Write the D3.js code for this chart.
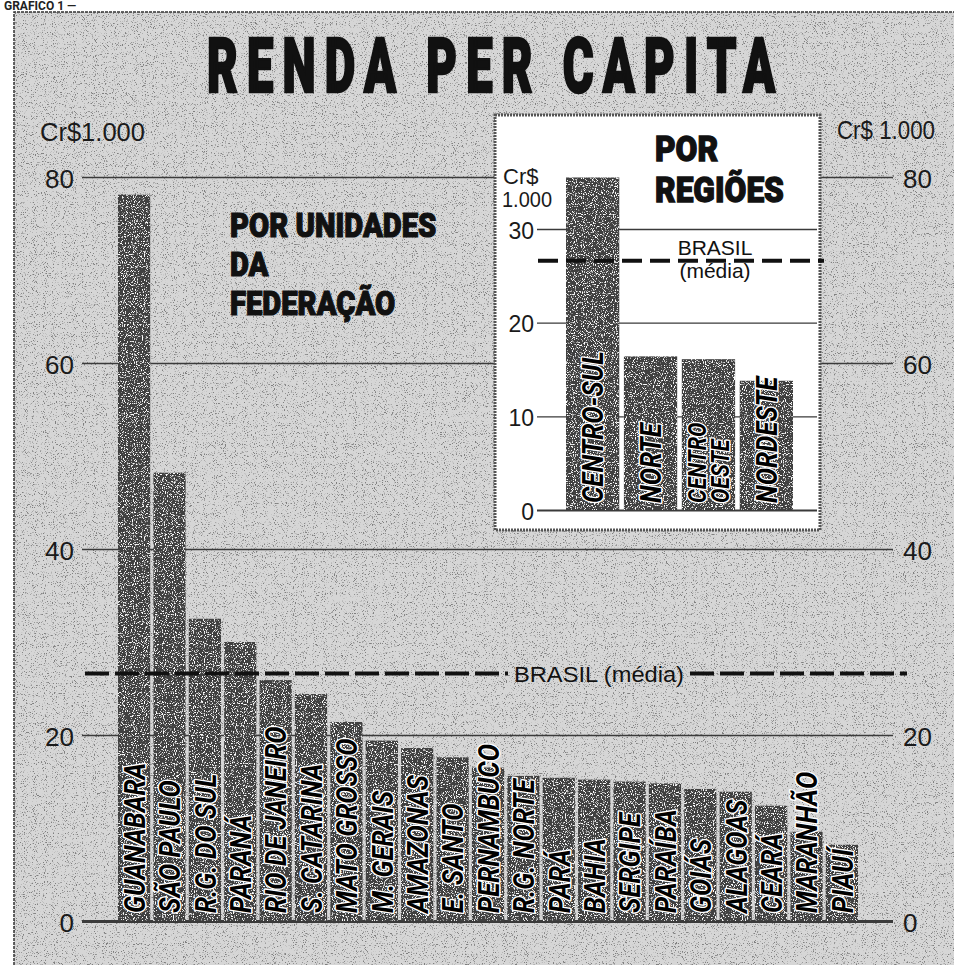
<!DOCTYPE html>
<html>
<head>
<meta charset="utf-8">
<script src="https://cdn.jsdelivr.net/npm/d3@7"></script>
<style>
  body { margin: 0; background: #fff; }
  svg { display: block; }
</style>
</head>
<body>
<script>
// Renda per capita por unidade da federação (Cr$ 1.000)
var estados = ["GUANABARA", "SÃO PAULO", "R.G. DO SUL", "PARANÁ", "RIO DE JANEIRO",
    "S. CATARINA", "MATO GROSSO", "M. GERAIS", "AMAZONAS", "E. SANTO", "PERNAMBUCO",
    "R.G. NORTE", "PARÁ", "BAHIA", "SERGIPE", "PARAÍBA", "GOIÁS", "ALAGOAS", "CEARÁ",
    "MARANHÃO", "PIAUÍ"];
var rendaEstados = [78.1, 48.2, 32.5, 30.0, 25.9, 24.4, 21.4, 19.4, 18.6, 17.6, 16.5,
    15.6, 15.4, 15.2, 15.0, 14.8, 14.2, 13.9, 12.4, 9.6, 8.2];

// por regiões
var regioes = ["CENTRO-SUL", "NORTE", "CENTRO OESTE", "NORDESTE"];
var rendaRegioes = [35.5, 16.4, 16.1, 13.8];

var mediaBrasil = 26.6;
var ticksEstados = [0, 20, 40, 60, 80];
var ticksRegioes = [0, 10, 20, 30];

var width = 954, height = 965;
var paper = "#d6d6d6", barColor = "#404040", lineColor = "#3a3a3a";
var heavy = "Roboto, 'Open Sans', sans-serif";
var plain = "'Liberation Sans', Arial, sans-serif";

var svg = d3.select("body").append("svg")
    .attr("width", width)
    .attr("height", height);

// grain filters to imitate the printed halftone
var defs = svg.append("defs");
var fDark = defs.append("filter").attr("id", "speckDark")
    .attr("x", 0).attr("y", 0).attr("width", "100%").attr("height", "100%");
fDark.append("feTurbulence").attr("type", "fractalNoise").attr("baseFrequency", 0.9)
    .attr("numOctaves", 2).attr("seed", 7).attr("result", "n");
fDark.append("feColorMatrix").attr("in", "n").attr("type", "matrix")
    .attr("values", "0 0 0 0 0  0 0 0 0 0  0 0 0 0 0  7 0 0 0 -4.1");

var fLight = defs.append("filter").attr("id", "speckLight")
    .attr("x", 0).attr("y", 0).attr("width", "100%").attr("height", "100%");
fLight.append("feTurbulence").attr("type", "fractalNoise").attr("baseFrequency", 0.9)
    .attr("numOctaves", 2).attr("seed", 3).attr("result", "n");
fLight.append("feColorMatrix").attr("in", "n").attr("type", "matrix")
    .attr("values", "0 0 0 0 1  0 0 0 0 1  0 0 0 0 1  7 0 0 0 -3.9").attr("result", "w");
fLight.append("feComposite").attr("in", "w").attr("in2", "SourceGraphic")
    .attr("operator", "in").attr("result", "ws");
var fm = fLight.append("feMerge");
fm.append("feMergeNode").attr("in", "SourceGraphic");
fm.append("feMergeNode").attr("in", "ws");

// paper + frame
svg.append("rect").attr("x", 14).attr("y", 12).attr("width", width).attr("height", height)
    .attr("fill", paper);
svg.append("rect").attr("x", 14).attr("y", 12).attr("width", width).attr("height", height)
    .attr("fill", "#000").attr("opacity", 0.4).attr("filter", "url(#speckDark)");
svg.append("path").attr("d", "M14," + height + "V12H" + width)
    .attr("fill", "none").attr("stroke", "#333").attr("stroke-width", 1.5)
    .attr("stroke-dasharray", "3,1");

svg.append("text").attr("x", 4).attr("y", 10)
    .attr("font-family", heavy).attr("font-weight", "bold").attr("font-size", 12)
    .attr("fill", "#222").text("GRÁFICO 1 —");

// title
var tScale = 0.62;
svg.append("g").attr("transform", "translate(207,92) scale(" + tScale + ",1)")
    .append("text")
    .attr("textLength", 568 / tScale).attr("lengthAdjust", "spacing")
    .attr("font-family", heavy).attr("font-weight", 900).attr("font-size", 76)
    .attr("fill", "#111").attr("stroke", "#111").attr("stroke-width", 2.5)
    .text("RENDA PER CAPITA");

// main scales
var y = d3.scaleLinear().domain([0, 80]).range([921, 177]);
var x = d3.scaleBand().domain(estados).range([118, 858]).paddingInner(0.09);

var gridLeft = 82, gridRight = 893;

var axisL = svg.append("g")
    .attr("transform", "translate(" + gridLeft + ",0)")
    .call(d3.axisLeft(y).tickValues(ticksEstados).tickSize(-(gridRight - gridLeft)).tickPadding(8));
var axisR = svg.append("g")
    .attr("transform", "translate(" + gridRight + ",0)")
    .call(d3.axisRight(y).tickValues(ticksEstados).tickSize(0).tickPadding(10));

[axisL, axisR].forEach(function (g) {
    g.select(".domain").remove();
    g.selectAll("text")
        .attr("font-family", plain).attr("font-size", 26).attr("fill", "#1a1a1a")
        .attr("dy", "0.4em");
});
axisL.selectAll("line")
    .attr("stroke", lineColor)
    .attr("stroke-width", function (d) { return d === 0 ? 3 : 1.4; });

// units
svg.append("text").attr("x", 40).attr("y", 141)
    .attr("textLength", 105).attr("lengthAdjust", "spacingAndGlyphs")
    .attr("font-family", plain).attr("font-size", 25).attr("fill", "#1a1a1a")
    .text("Cr$1.000");
svg.append("text").attr("x", 837).attr("y", 139)
    .attr("textLength", 98).attr("lengthAdjust", "spacingAndGlyphs")
    .attr("font-family", plain).attr("font-size", 25).attr("fill", "#1a1a1a")
    .text("Cr$ 1.000");

// subtitle
var sub = svg.append("g").attr("transform", "translate(230,0) scale(0.86,1)")
    .append("text")
    .attr("font-family", heavy).attr("font-weight", 900).attr("font-size", 34)
    .attr("fill", "#111").attr("stroke", "#111").attr("stroke-width", 1.2);
["POR UNIDADES", "DA", "FEDERAÇÃO"].forEach(function (t, i) {
    sub.append("tspan").attr("x", 0).attr("y", 237 + i * 39).text(t);
});

// bars
svg.append("g").attr("filter", "url(#speckLight)").selectAll("rect")
    .data(rendaEstados)
    .join("rect")
    .attr("x", function (d, i) { return x(estados[i]); })
    .attr("y", function (d) { return y(d); })
    .attr("width", x.bandwidth())
    .attr("height", function (d) { return y(0) - y(d); })
    .attr("fill", barColor);

var labelScale = 0.86;
function barLabel(g, cx, bottom, size) {
    return g.append("g")
        .attr("transform", "translate(" + cx + "," + bottom + ") rotate(-90) scale(" + labelScale + ",1)")
        .append("text")
        .attr("font-family", heavy).attr("font-weight", "bold").attr("font-style", "italic")
        .attr("font-size", size)
        .attr("fill", "#000").attr("stroke", "#fff").attr("stroke-width", 3)
        .attr("stroke-linejoin", "round")
        .attr("paint-order", "stroke");
}

var labelsMain = svg.append("g");
estados.forEach(function (name) {
    barLabel(labelsMain, x(name) + x.bandwidth() / 2, 913, 30)
        .attr("dy", "0.36em").text(name);
});

// média Brasil (main)
var yb = y(mediaBrasil);
var dashed = svg.append("g")
    .attr("stroke", "#111").attr("stroke-width", 4).attr("stroke-dasharray", "24,6");
dashed.append("line").attr("x1", 85).attr("x2", 508).attr("y1", yb).attr("y2", yb);
dashed.append("line").attr("x1", 690).attr("x2", 907).attr("y1", yb).attr("y2", yb);
svg.append("text").attr("x", 599).attr("y", yb + 8).attr("text-anchor", "middle")
    .attr("font-family", plain).attr("font-size", 22).attr("fill", "#111")
    .attr("textLength", 170).attr("lengthAdjust", "spacingAndGlyphs")
    .text("BRASIL (média)");

// ---------- inset: por regiões ----------
var inset = svg.append("g");
inset.append("rect")
    .attr("x", 495).attr("y", 115).attr("width", 325).attr("height", 415)
    .attr("fill", "#fff").attr("stroke", "#555").attr("stroke-width", 3)
    .attr("stroke-dasharray", "2,1");

var yr = d3.scaleLinear().domain([0, 30]).range([510, 229]);
var xr = d3.scaleBand().domain(regioes).range([566, 793]).paddingInner(0.08);

var axisI = inset.append("g")
    .attr("transform", "translate(537,0)")
    .call(d3.axisLeft(yr).tickValues(ticksRegioes).tickSize(-280).tickPadding(3));
axisI.select(".domain").remove();
axisI.selectAll("line").attr("stroke", lineColor)
    .attr("stroke-width", function (d) { return d === 0 ? 2 : 1.3; });
axisI.selectAll("text")
    .attr("font-family", plain).attr("font-size", 23).attr("fill", "#1a1a1a")
    .attr("dy", "0.4em");

inset.append("text").attr("x", 503).attr("y", 184)
    .attr("font-family", plain).attr("font-size", 22).attr("fill", "#1a1a1a").text("Cr$");
inset.append("text").attr("x", 502).attr("y", 207)
    .attr("textLength", 50).attr("lengthAdjust", "spacingAndGlyphs")
    .attr("font-family", plain).attr("font-size", 22).attr("fill", "#1a1a1a").text("1.000");

["POR", "REGIÕES"].forEach(function (t, i) {
    inset.append("g").attr("transform", "translate(655," + (161 + i * 41) + ") scale(0.88,1)")
        .append("text")
        .attr("font-family", heavy).attr("font-weight", 900).attr("font-size", 36)
        .attr("fill", "#111").attr("stroke", "#111").attr("stroke-width", 1.3)
        .text(t);
});

inset.append("g").attr("filter", "url(#speckLight)").selectAll("rect")
    .data(rendaRegioes)
    .join("rect")
    .attr("x", function (d, i) { return xr(regioes[i]); })
    .attr("y", function (d) { return yr(d); })
    .attr("width", xr.bandwidth())
    .attr("height", function (d) { return yr(0) - yr(d); })
    .attr("fill", barColor);

regioes.forEach(function (name) {
    var cx = xr(name) + xr.bandwidth() / 2;
    var parts = name.split(" ");
    var size = parts.length > 1 ? 25 : 30;
    var t = barLabel(inset, cx, 503, size);
    parts.forEach(function (p, j) {
        t.append("tspan").attr("x", 0)
            .attr("dy", j === 0 ? (0.36 - (parts.length - 1) * 0.45) + "em" : "0.9em")
            .text(p);
    });
});

var ybr = yr(mediaBrasil);
inset.append("line").attr("x1", 538).attr("x2", 824).attr("y1", ybr).attr("y2", ybr)
    .attr("stroke", "#111").attr("stroke-width", 4).attr("stroke-dasharray", "20,8");
inset.append("text").attr("x", 715).attr("y", ybr - 6).attr("text-anchor", "middle")
    .attr("font-family", plain).attr("font-size", 21).attr("fill", "#111").text("BRASIL");
inset.append("text").attr("x", 715).attr("y", ybr + 17).attr("text-anchor", "middle")
    .attr("font-family", plain).attr("font-size", 21).attr("fill", "#111").text("(média)");
</script>
</body>
</html>
